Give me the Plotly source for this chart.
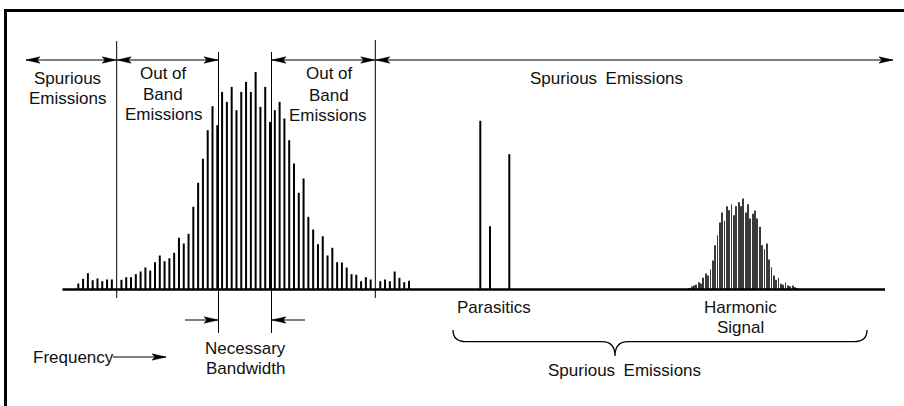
import plotly.graph_objects as go

# ---------------- data (levels above the frequency axis) ----------------
# main carrier spectrum: evenly spaced lines, None = gap where a boundary line sits
main_levels = [6, 10.7, 16.3, 9.3, 11, 8.3, 10, 10, None,
               9.7, 12.3, 12.3, 15.3, 18, 22, 19, 27.3, 34, 28.3,
               31.3, 36.7, 51.7, 46, 55.7, 82.7, 106.7, 130.7, 159.3, 183.3,
               164.3, 197.6, 187.6, 202.6, 179.3, 197.6, 207.6, 197.6, 217.6, 182.6,
               202.6, 167.6, 179.3, 187.6, 171, 149.3, 126, 96.7, 111, 72.7,
               60, 45.3, 53.3, 34, 41.7, 27.3, 27, 22, 15.3, 14.7,
               8.3, 12.3, 10, None,
               8.3, 10, 8.3, 18, 11.7, 7.3, 8.7]
main_start, main_step = 78.3, 4.793

# parasitic lines
parasitic_freqs = [480.3, 490.0, 509.3]
parasitic_levels = [168.7, 63.3, 135.3]

# harmonic signal
harm_levels = [1.3, 3, 4, 4.7, 7.3, 6, 11.7, 16, 14, 20,
               29, 44.3, 54.3, 67, 77, 68.7, 83.3, 79.3, 85.3, 74.3,
               83.3, 87.3, 83.3, 91, 77, 85.3, 71, 75.7, 79, 71,
               62.7, 44.3, 40.3, 46, 30, 22.3, 14, 9.7, 11.7, 5.7,
               4.7, 7, 4, 3.3, 4, 2.3, 1.3]
harm_start, harm_step = 689.3, 2.348

# ---------------- layout helpers ----------------
W, H = 904, 406
BASE = 289.5            # pixel row of the frequency axis


def Y(p):
    """pixel row -> data y"""
    return BASE - p


FONT = dict(family="Liberation Sans, Arial, sans-serif", size=17, color="#111111")

main_x = [main_start + i * main_step for i, v in enumerate(main_levels) if v is not None]
main_y = [v for v in main_levels if v is not None]
harm_x = [harm_start + i * harm_step for i in range(len(harm_levels))]

fig = go.Figure()
fig.add_trace(go.Bar(x=main_x, y=main_y, width=2.0, marker=dict(color="black", line=dict(width=0)),
                     hoverinfo="skip"))
fig.add_trace(go.Bar(x=parasitic_freqs, y=parasitic_levels, width=2.0,
                     marker=dict(color="black", line=dict(width=0)), hoverinfo="skip"))
fig.add_trace(go.Bar(x=harm_x, y=harm_levels, width=0.8,
                     marker=dict(color="#3a3a3a", line=dict(width=0)), hoverinfo="skip"))

shapes = []


def line(x0, p0, x1, p1, w=1.0, color="black"):
    shapes.append(dict(type="line", x0=x0, x1=x1, y0=Y(p0), y1=Y(p1),
                       line=dict(color=color, width=w), layer="above"))


def head(tx, tp, direction, length=14, half=3.2):
    # direction +1 : tip points right, -1 : tip points left
    bx = tx - direction * length
    nx = tx - direction * (length * 0.8)
    path = (f"M {tx},{Y(tp)} L {bx},{Y(tp - half)} L {nx},{Y(tp)} "
            f"L {bx},{Y(tp + half)} Z")
    shapes.append(dict(type="path", path=path, fillcolor="black",
                       line=dict(color="black", width=0.5), layer="above"))


# border (top and left edges)
line(4, 10.5, 910, 10.5, w=3)
line(5.5, 9, 5.5, 412, w=3)

# frequency axis
line(62.5, BASE, 885, BASE, w=2.5)

# boundary lines
line(116.7, 41, 116.7, 298)
line(218.5, 52, 218.5, 333)
line(271.5, 52, 271.5, 333)
line(375.3, 40, 375.3, 298)

# top double arrows
ARROW_ROW = 60
for a, b in [(26, 116.2), (117.2, 218), (272, 374.8), (375.8, 893)]:
    line(a, ARROW_ROW, b, ARROW_ROW, w=1.2)
    head(a, ARROW_ROW, -1)
    head(b, ARROW_ROW, +1)

# necessary bandwidth arrows
line(185, 320, 218, 320, w=1.2)
head(218, 320, +1)
line(305, 320, 272, 320, w=1.2)
head(272, 320, -1)

# frequency arrow
line(113, 357, 166, 357, w=1.2)
head(166, 357, +1)

# brace under parasitics / harmonic
bt, bh, btip = 330, 341.7, 356
brace = (f"M 453,{Y(bt)} Q 453,{Y(bh)} 466,{Y(bh)} L 602,{Y(bh)} "
         f"Q 615,{Y(bh)} 615,{Y(btip)} Q 615,{Y(bh)} 628,{Y(bh)} "
         f"L 854,{Y(bh)} Q 867,{Y(bh)} 867,{Y(bt)}")
shapes.append(dict(type="path", path=brace, line=dict(color="black", width=1.3), layer="above"))

# ---------------- labels ----------------
labels = [
    ("Spurious", 67, 78, "center"), ("Emissions", 67, 98, "center"),
    ("Out of", 163, 73, "center"), ("Band", 163, 94, "center"), ("Emissions", 163, 114, "center"),
    ("Out of", 329, 73, "center"), ("Band", 329, 95, "center"), ("Emissions", 327, 115, "center"),
    ("Spurious\u2002Emissions", 606, 78, "center"),
    ("Parasitics", 494, 307, "center"),
    ("Harmonic", 740, 307, "center"), ("Signal", 740, 327, "center"),
    ("Spurious\u2002Emissions", 624, 370, "center"),
    ("Frequency", 31, 357, "left"),
    ("Necessary", 245, 348, "center"), ("Bandwidth", 245, 368, "center"),
]
annotations = [dict(text=t, x=x, y=Y(p), xref="x", yref="y", showarrow=False,
                    xanchor=xa, yanchor="middle", font=FONT)
               for t, x, p, xa in labels]

fig.update_layout(
    width=W, height=H, autosize=False,
    margin=dict(l=0, r=0, t=0, b=0, pad=0),
    paper_bgcolor="white", plot_bgcolor="white",
    showlegend=False, barmode="overlay",
    xaxis=dict(range=[0, W], visible=False, fixedrange=True),
    yaxis=dict(range=[Y(H), Y(0)], visible=False, fixedrange=True),
    shapes=shapes, annotations=annotations,
)

fig.write_html("out.html", config={"displayModeBar": False},
               post_script="document.body.style.margin='0px';document.body.style.overflow='hidden';")
